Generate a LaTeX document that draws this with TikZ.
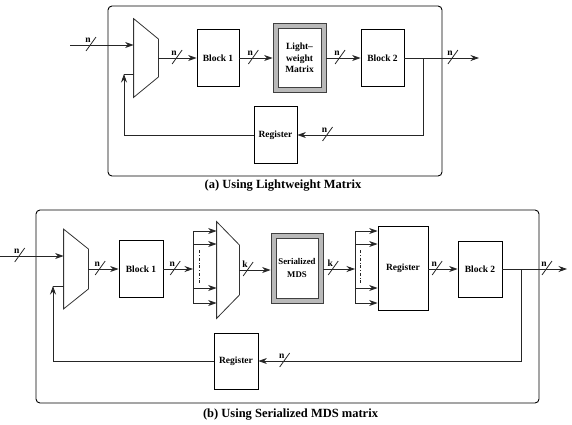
\documentclass[tikz,border=0pt]{standalone}
\usepackage{fontspec}
\setmainfont{Liberation Serif}
\usetikzlibrary{arrows.meta,calc}

\newcommand{\muxbody}[2]{%
  \draw[black!80] (#1.north west) -- ($(#1.east)+(0,-#2)$) -- ($(#1.east)+(0,#2)$) -- (#1.south west) -- cycle;}

\begin{document}
\begin{tikzpicture}[x=1pt,y=-1pt,>={Stealth[length=8.5pt,width=6pt]},line width=0.8pt,
  block/.style={draw,fill=white,inner sep=0pt,align=center,font=\fontsize{9.5}{11.3}\selectfont\bfseries},
  frame/.style={draw=black!75,fill=gray!55,inner sep=0pt},
  mux/.style={inner sep=0pt},
  wire/.style={->,draw=black!85},
  lbl/.style={font=\fontsize{9.5}{10}\selectfont\bfseries,inner sep=0pt},
  caption/.style={font=\fontsize{12.5}{14}\selectfont\bfseries}]
  \useasboundingbox (0,0) rectangle (572,424);

  % (a) lightweight matrix
  \draw[rounded corners=4pt,line width=0.9pt] (108,6) rectangle (442,176);
  \node[mux,minimum width=24pt,minimum height=78pt] (muxA) at (146,58) {};
  \muxbody{muxA}{19}
  \node[block,minimum width=42pt,minimum height=57pt] (blkA1) at (218,58) {Block 1};
  \node[frame,minimum width=53pt,minimum height=69pt] (mtxbox) at (299.5,58) {};
  \node[block,draw=black!75,minimum width=43pt,minimum height=59pt] (mtx) at (299.5,58) {Light--\\weight\\Matrix};
  \node[block,minimum width=43pt,minimum height=57pt] (blkA2) at (382.5,58) {Block 2};
  \node[block,minimum width=43pt,minimum height=57pt] (regA) at (275.5,135) {Register};
  \coordinate (inA) at (70,45);
  \coordinate (outA) at (479,58);
  \coordinate (brA) at (423,58);
  \coordinate (fbA) at (124,74);

  \draw[wire] (inA) -- coordinate[pos=.33] (sa1) (inA -| muxA.west);
  \draw[wire] (muxA.east) -- coordinate[pos=.49] (sa2) (blkA1.west);
  \draw[wire] (blkA1.east) -- coordinate[pos=.42] (sa3) (mtxbox.west);
  \draw[wire] (mtxbox.east) -- coordinate[pos=.4] (sa4) (blkA2.west);
  \draw[wire] (blkA2.east) -- coordinate[pos=.65] (sa5) (outA);
  \draw[wire] (brA) |- coordinate[pos=.88] (sa6) (regA.east);
  \draw[wire] (regA.west) -| (fbA);
  \draw[black!85] (fbA) -- (fbA -| muxA.west);
  \node[caption] (capA) at (283,186) {(a) Using Lightweight Matrix};

  % (b) serialized MDS matrix
  \draw[rounded corners=4pt,line width=0.9pt] (36,210) rectangle (539,403);
  \node[mux,minimum width=24pt,minimum height=79pt] (muxB1) at (76,269) {};
  \muxbody{muxB1}{20}
  \node[block,minimum width=44pt,minimum height=57pt] (blkB1) at (141,269) {Block 1};
  \node[mux,minimum width=22pt,minimum height=96pt] (muxB2) at (228,270) {};
  \muxbody{muxB2}{25}
  \node[frame,minimum width=52pt,minimum height=70pt] (mdsbox) at (297,268) {};
  \node[block,draw=black!75,font=\fontsize{8.8}{13}\selectfont\bfseries,
    minimum width=42pt,minimum height=60pt] (mds) at (297,268) {Serialized\\MDS};
  \node[block,minimum width=50pt,minimum height=84pt] (regB) at (403,268) {Register};
  \node[block,minimum width=44pt,minimum height=56pt] (blkB2) at (480,269) {Block 2};
  \node[block,minimum width=44pt,minimum height=56pt] (regC) at (236,361) {Register};
  \coordinate (inB) at (0,256);
  \coordinate (outB) at (567,269);
  \coordinate (brB) at (521,269);
  \coordinate (fbB) at (53,286);
  \coordinate (fanA) at (193,269);
  \coordinate (fanB) at (355,269);

  \draw[wire] (inB) -- coordinate[pos=.31] (sb1) (inB -| muxB1.west);
  \draw[wire] (muxB1.east) -- coordinate[pos=.39] (sb2) (blkB1.west);
  \draw[wire] (blkB1.east) -- coordinate[pos=.4] (sb3) (fanA);
  \draw[wire] (muxB2.east) -- coordinate[pos=.28] (sb4) (mdsbox.west |- muxB2.east);
  \draw[wire] (mdsbox.east |- fanB) -- coordinate[pos=.31] (sb5) (fanB);
  \draw[wire] (regB.east |- blkB2.west) -- coordinate[pos=.3] (sb6) (blkB2.west);
  \draw[wire] (blkB2.east) -- coordinate[pos=.69] (sb7) (outB);
  \draw[wire] (brB) |- coordinate[pos=.95] (sb8) (regC.east);
  \draw[wire] (regC.west) -| (fbB);
  \draw[black!85] (fbB) -- (fbB -| muxB1.west);

  % fan-out into the mux and the register
  \draw[black!85] (fanA |- 0,231) -- (fanA |- 0,303);
  \draw[black!85] (fanB |- 0,231) -- (fanB |- 0,304);
  \foreach \y in {231,244,288,303} {
    \draw[wire] (fanA |- 0,\y) -- (muxB2.west |- 0,\y);
    \draw[wire] (fanB |- 0,\y) -- (regB.west |- 0,\y);
  }
  \draw[black!85,line width=0.6pt,dash dot] ($(fanA)+(6,-19)$) -- ($(fanA)+(6,14)$);
  \draw[black!85,line width=0.6pt,dash dot] ($(fanB)+(5,-19)$) -- ($(fanB)+(5,14)$);
  \node[caption] (capB) at (290.5,415) {(b) Using Serialized MDS matrix};

  % bus width marks
  \foreach \s/\w in {sa1/n,sa2/n,sa3/n,sa4/n,sa5/n,sa6/n,sb1/n,sb2/n,sb3/n,sb4/k,sb5/k,sb6/n,sb7/n,sb8/n} {
    \draw[black!85] ($(\s)+(-5,6)$) -- ($(\s)+(5,-8)$);
    \node[lbl,anchor=base] at ($(\s)+(-3,-3)$) {\w};
  }
\end{tikzpicture}
\end{document}
